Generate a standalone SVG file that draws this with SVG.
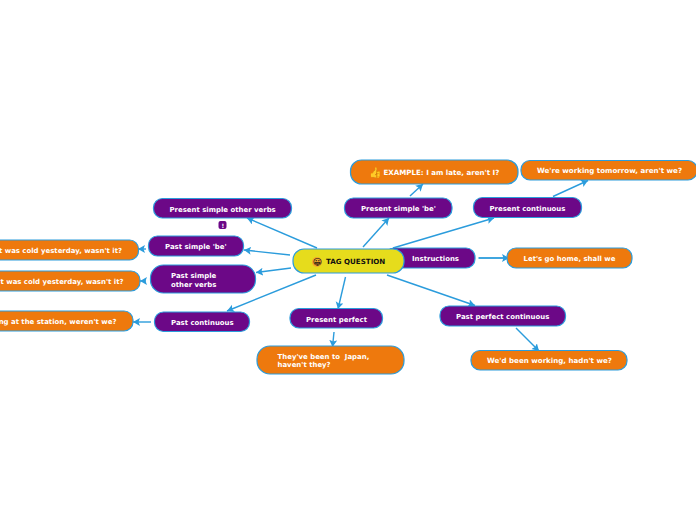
<svg xmlns="http://www.w3.org/2000/svg" width="696" height="520" viewBox="0 0 696 520">
<style>
.n{stroke:#2b9cdc;stroke-width:1.2}
.p{fill:#6c0887}
.o{fill:#ee790d}
.c{fill:#e6dc1c}
text{font-family:"DejaVu Sans",Verdana,sans-serif;font-weight:700;font-size:6.95px;fill:#fff}
.k{fill:#111;font-size:7.1px}
.w{font-size:7.08px}
.l{fill:none;stroke:#2b9cdc;stroke-width:1.4;marker-end:url(#a)}
</style>
<defs>
<marker id="a" markerUnits="userSpaceOnUse" markerWidth="9" markerHeight="9" refX="7" refY="4" orient="auto"><path d="M0 0L7 4L0 8L1.500 4Z" fill="#2b9cdc"/></marker>
</defs>
<rect width="696" height="520" fill="#fff"/>
<g id="connectors">
<path class="l" d="M317 248L247 218"/>
<path class="l" d="M290 255L244 250"/>
<path class="l" d="M291 268L256 272.500"/>
<path class="l" d="M316 275L227 311"/>
<path class="l" d="M345.500 277L338 309"/>
<path class="l" d="M387 275L475 305.500"/>
<path class="l" d="M363 247L389 218"/>
<path class="l" d="M393 248L494 218"/>
<path class="l" d="M410 196L423 184"/>
<path class="l" d="M553 196.500L588 180.500"/>
<path class="l" d="M478.500 258L509 258" style="stroke-width:1.800"/>
<path class="l" d="M516 328L539 351"/>
<path class="l" d="M334 332L332.500 347"/>
<path class="l" d="M146 249L138 249"/>
<path class="l" d="M146 281L140 281"/>
<path class="l" d="M151 322L133 322"/>
</g>
<g id="instructions"><rect class="n p" x="385" y="248" width="90" height="20" rx="9"/><text x="412" y="261">Instructions</text></g>
<g id="center"><rect class="n c" x="293" y="249" width="111" height="24" rx="11"/><circle cx="317" cy="262" r="5" fill="#f2a92c"/><text class="k" x="312.500" y="265" style="font-size:9px">😀</text><text class="k" x="326" y="264">TAG QUESTION</text></g>
<g id="lets-go"><rect class="n o" x="507" y="248" width="125" height="20" rx="9"/><text x="523.500" y="261">Let's go home, shall we</text></g>
<g id="present-simple-be"><rect class="n p" x="344.500" y="198" width="107.500" height="20" rx="9"/><text x="361" y="211">Present simple 'be'</text></g>
<g id="present-continuous"><rect class="n p" x="473.500" y="197.500" width="108" height="20" rx="9"/><text x="489.500" y="211">Present continuous</text></g>
<g id="example"><rect class="n o" x="350.500" y="160" width="167.500" height="24" rx="11"/><text x="369" y="176" style="font-size:10px;fill:#f6b667">👍</text><text class="w" x="383.500" y="175">EXAMPLE: I am late, aren't I?</text></g>
<g id="working"><rect class="n o" x="521" y="160.500" width="176" height="19.500" rx="9"/><text class="w" x="537" y="173">We're working tomorrow, aren't we?</text></g>
<g id="present-simple-other"><rect class="n p" x="153.500" y="198.500" width="138" height="19.500" rx="9"/><text x="169.500" y="211.500">Present simple other verbs</text></g>
<g id="badge"><rect class="p" x="218.500" y="221" width="8" height="8" rx="2"/><text x="221.500" y="227.500" style="font-size:6px">!</text></g>
<g id="past-simple-be"><rect class="n p" x="148.500" y="236" width="95" height="20" rx="9"/><text x="165" y="248.500">Past simple 'be'</text></g>
<g id="past-simple-other"><rect class="n p" x="150.500" y="265" width="105" height="28" rx="13"/><text x="171" y="278">Past simple</text><text x="171" y="286.500">other verbs</text></g>
<g id="past-continuous"><rect class="n p" x="154.500" y="312" width="95" height="19.500" rx="9"/><text x="171" y="325">Past continuous</text></g>
<g id="cold-1"><rect class="n o" x="-40" y="240" width="178.500" height="20" rx="9"/><text x="122" y="252.500" text-anchor="end">t was cold yesterday, wasn't it?</text></g>
<g id="cold-2"><rect class="n o" x="-40" y="271" width="180" height="20" rx="9"/><text x="123.500" y="284" text-anchor="end">t was cold yesterday, wasn't it?</text></g>
<g id="station"><rect class="n o" x="-40" y="311" width="173" height="20" rx="9"/><text x="116.500" y="324" text-anchor="end">ng at the station, weren't we?</text></g>
<g id="present-perfect"><rect class="n p" x="290" y="308.500" width="92.500" height="19.500" rx="9"/><text x="306" y="321.500">Present perfect</text></g>
<g id="japan"><rect class="n o" x="257" y="346" width="147" height="28" rx="13"/><text x="277.500" y="359" xml:space="preserve">They've been to  Japan,</text><text x="277.500" y="367">haven't they?</text></g>
<g id="past-perfect-continuous"><rect class="n p" x="440" y="306" width="125.500" height="20" rx="9"/><text x="456" y="319">Past perfect continuous</text></g>
<g id="hadnt"><rect class="n o" x="471" y="350.500" width="156" height="19.500" rx="9"/><text class="w" x="487" y="363">We'd been working, hadn't we?</text></g>
</svg>
